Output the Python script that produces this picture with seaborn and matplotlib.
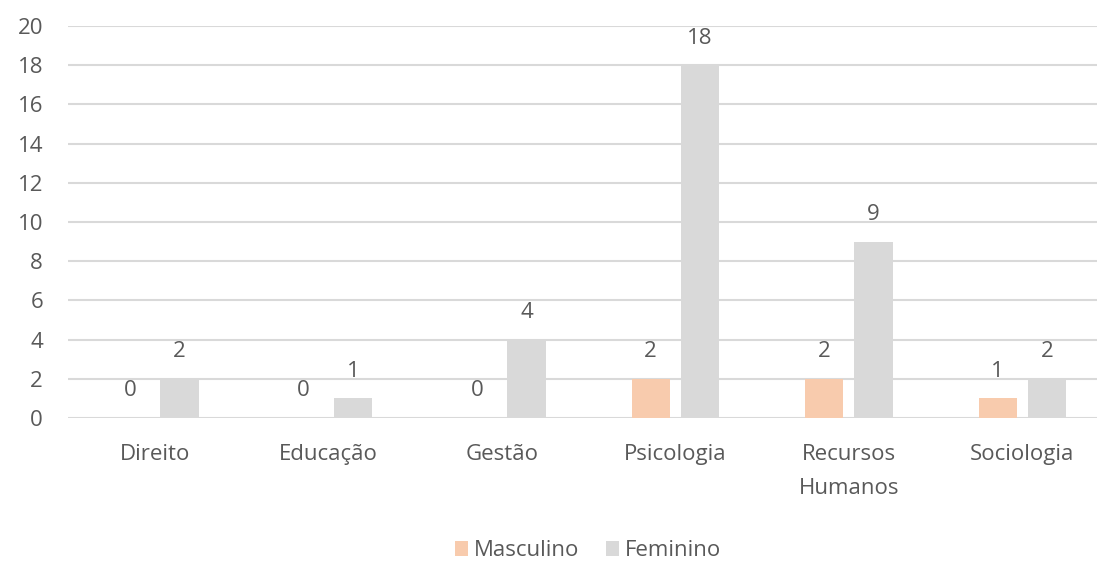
import matplotlib
matplotlib.use('Agg')
import matplotlib.pyplot as plt
import seaborn as sns
import pandas as pd

# chart data
cursos = ['Direito', 'Educação', 'Gestão', 'Psicologia', 'Recursos\nHumanos', 'Sociologia']
masculino = [0, 0, 0, 2, 2, 1]
feminino = [2, 1, 4, 18, 9, 2]
series = ['Masculino', 'Feminino']
cores = ['#F8CBAD', '#D9D9D9']

df = pd.DataFrame({
    'curso': cursos * 2,
    'valor': masculino + feminino,
    'sexo': [series[0]] * len(cursos) + [series[1]] * len(cursos),
})

sns.set_theme(style='white')
plt.rcParams['font.family'] = ['Open Sans', 'DejaVu Sans']
texto = '#595959'
fs = 16

fig = plt.figure(figsize=(10.97, 5.65), dpi=100)
ax = fig.add_axes([0.062, 0.26, 0.949, 0.694])

sns.barplot(data=df, x='curso', y='valor', hue='sexo', palette=cores,
            width=0.57, gap=0.23, ax=ax, saturation=1, edgecolor='none',
            linewidth=0)

for c in ax.containers:
    ax.bar_label(c, padding=12, fontsize=fs, color=texto)

ax.set_ylim(0, 20)
ax.set_yticks(range(0, 21, 2))
ax.yaxis.grid(True, color='#D9D9D9', linewidth=1.5)
ax.set_axisbelow(True)
sns.despine(ax=ax, left=True, bottom=True, top=True, right=True)
ax.set_xlabel('')
ax.set_ylabel('')
ax.tick_params(axis='both', length=0, labelsize=fs, colors=texto)
ax.tick_params(axis='x', pad=19)
ax.tick_params(axis='y', pad=18)
for lbl in ax.get_xticklabels():
    lbl.set_linespacing(1.8)

ax.get_legend().remove()
h, l = ax.get_legend_handles_labels()
fig.legend(h, l, loc='center', bbox_to_anchor=(0.536, 0.025), ncol=2, frameon=False,
           fontsize=fs, labelcolor=texto, handlelength=0.6, handleheight=0.6,
           handletextpad=0.25, columnspacing=1.2)

fig.savefig('out.png', dpi=100)
